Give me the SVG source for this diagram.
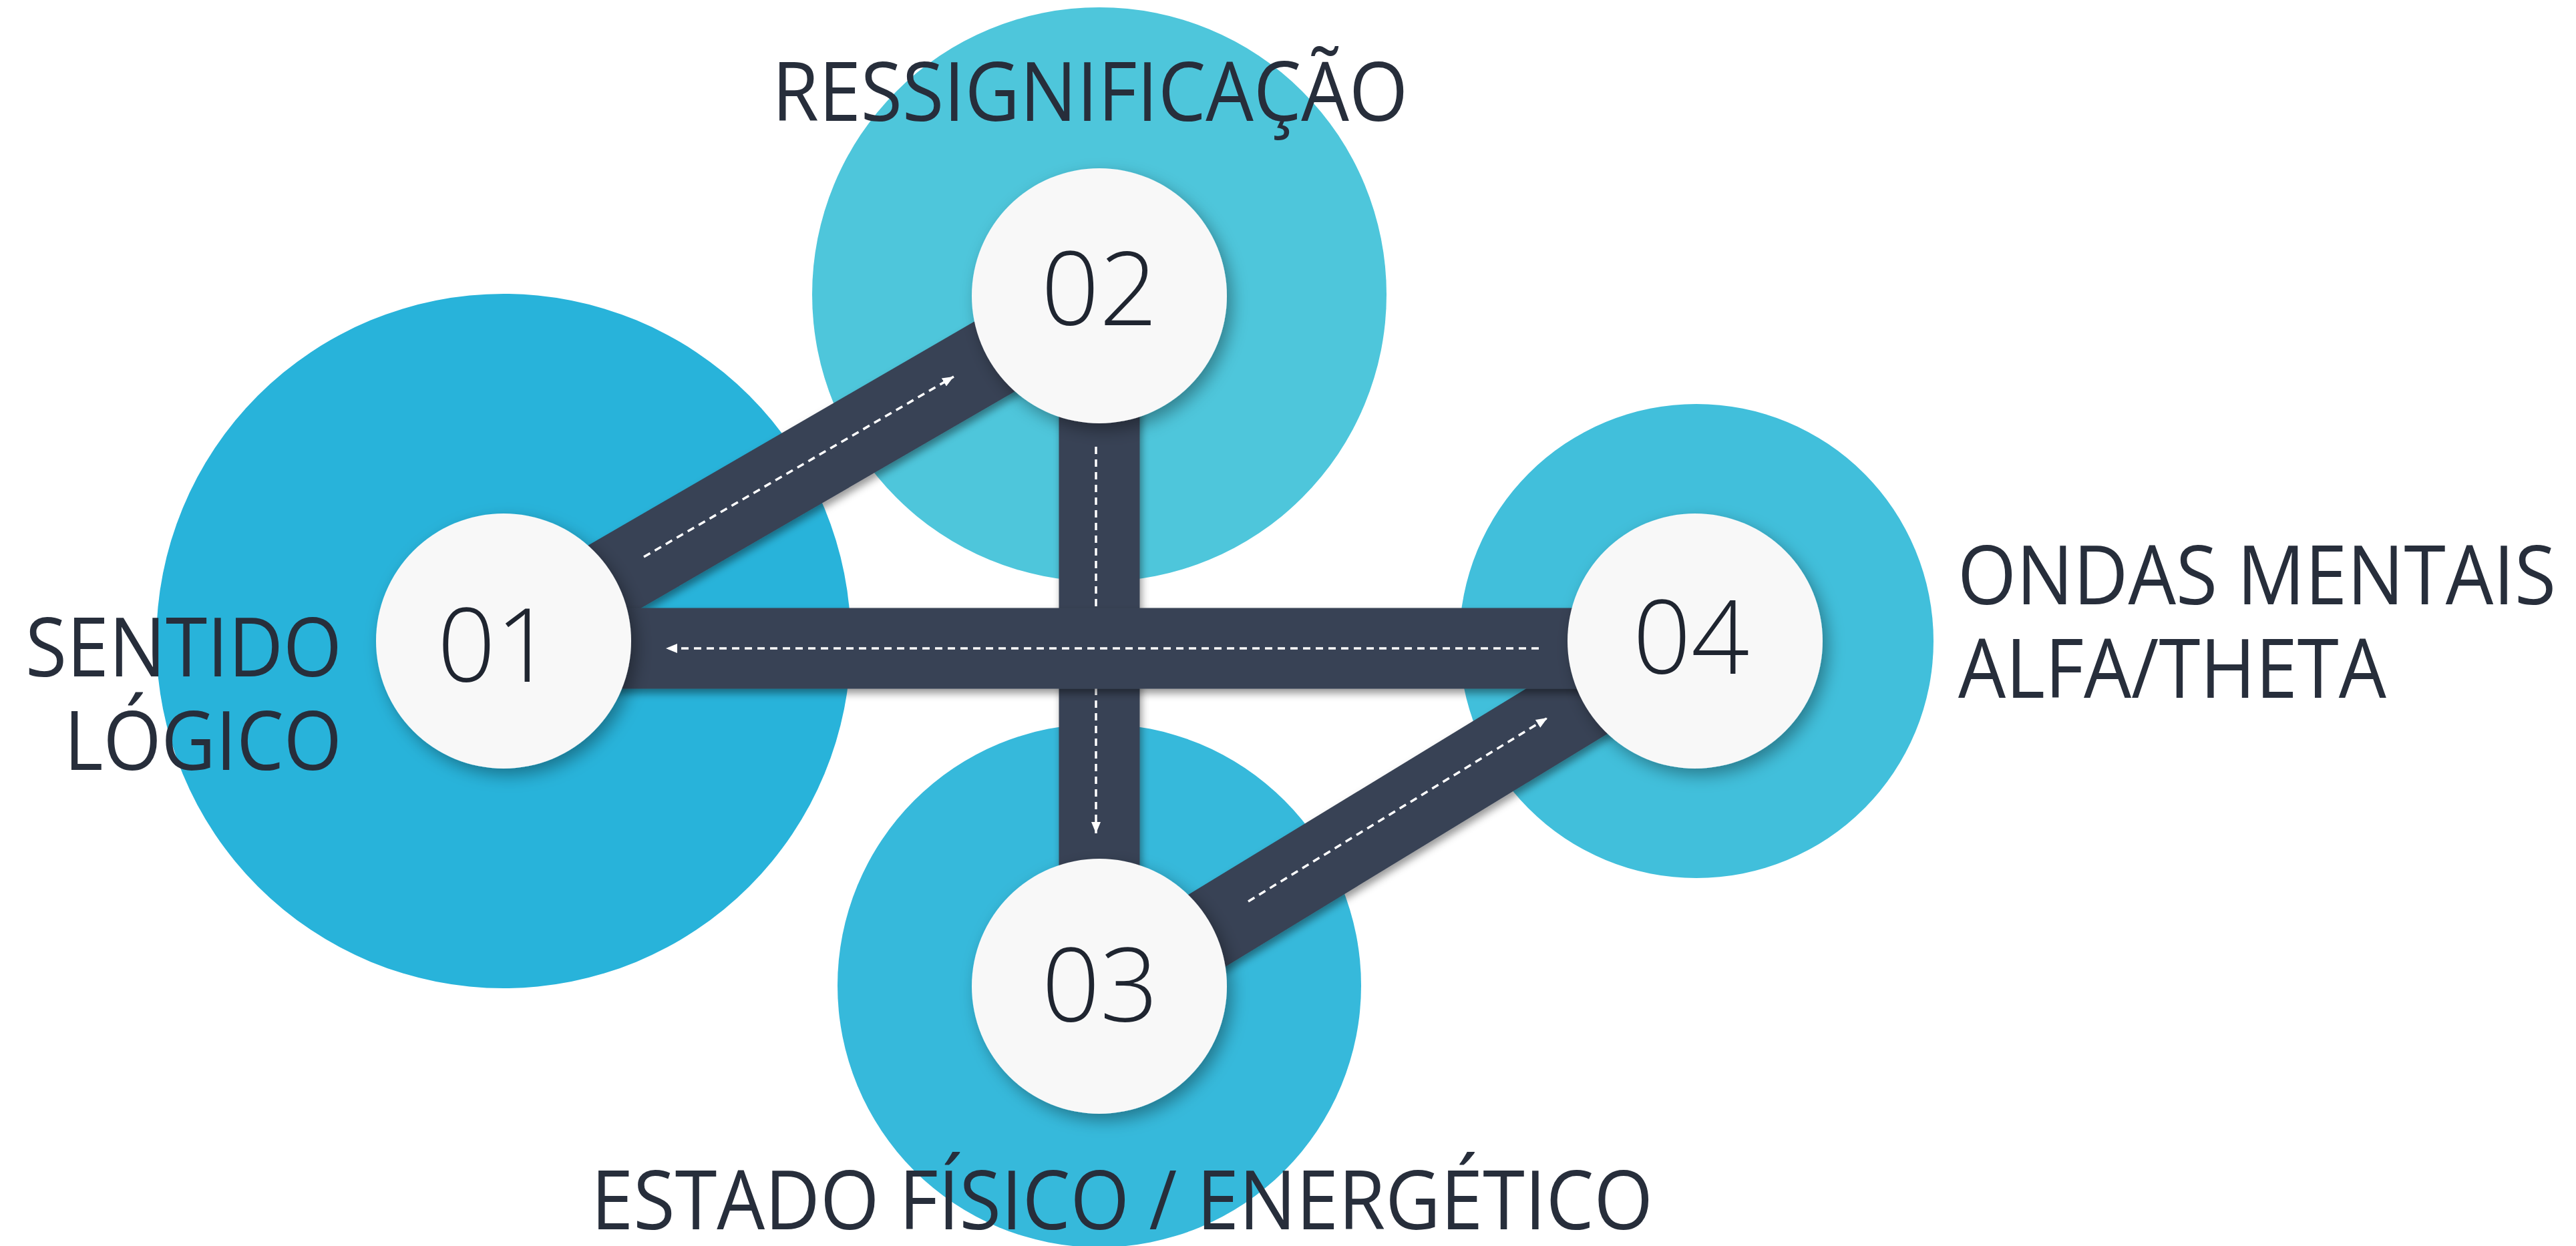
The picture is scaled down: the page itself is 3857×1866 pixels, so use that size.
<svg xmlns="http://www.w3.org/2000/svg" width="3857" height="1866" viewBox="0 0 3857 1866">
<style>
.road{stroke:#394355;stroke-width:121;fill:none;stroke-linecap:butt}
.dash{stroke:#ffffff;stroke-width:3.5;stroke-dasharray:11 8;fill:none}
.disc{fill:#f8f8f8}
.num{font-family:"Open Sans","Liberation Sans",sans-serif;font-weight:300;font-size:153px;fill:#1f2530;text-anchor:middle}
.lbl{font-family:"Open Sans","Liberation Sans",sans-serif;font-weight:400;font-size:122px;fill:#272e3b}
</style>
<defs>
<filter id="sh" x="-30%" y="-30%" width="160%" height="160%">
<feDropShadow dx="8" dy="10" stdDeviation="12" flood-color="#000" flood-opacity="0.35"/>
</filter>
<filter id="rsh" filterUnits="userSpaceOnUse" x="0" y="0" width="3857" height="1866">
<feDropShadow dx="3" dy="7" stdDeviation="6" flood-color="#000" flood-opacity="0.4"/>
</filter>
<marker id="arr" markerUnits="userSpaceOnUse" markerWidth="18" markerHeight="16" refX="17" refY="8" orient="auto">
<path d="M0,1 L17,8 L0,15 z" fill="#ffffff"/>
</marker>
</defs>
<rect width="3857" height="1866" fill="#ffffff"/>
<g id="backdrops">
<circle cx="754" cy="960" r="520" fill="#28b3da"/>
<circle cx="1646" cy="441" r="430" fill="#4ec6db"/>
<circle cx="1646" cy="1476" r="392" fill="#36b9db"/>
<circle cx="2540" cy="960" r="355" fill="#41bfdb"/>
</g>
<g id="connectors">
<line class="road" x1="754" y1="960" x2="1646" y2="443" filter="url(#rsh)"/>
<line class="dash" x1="964" y1="834" x2="1428" y2="564" marker-end="url(#arr)"/>
<line class="road" x1="1646" y1="1492" x2="2538" y2="948" filter="url(#rsh)"/>
<line class="dash" x1="1869" y1="1350" x2="2317" y2="1075" marker-end="url(#arr)"/>
<line class="road" x1="1646" y1="443" x2="1646" y2="1477" filter="url(#rsh)"/>
<line class="dash" x1="1641" y1="669" x2="1641" y2="1248" marker-end="url(#arr)"/>
<line class="road" x1="754" y1="971" x2="2540" y2="971" filter="url(#rsh)"/>
<line class="dash" x1="2304" y1="971" x2="997" y2="971" marker-end="url(#arr)"/>
</g>
<g id="node-01">
<circle class="disc" cx="754" cy="960" r="191" filter="url(#sh)"/>
<text class="num" x="742" y="1021">01</text>
<text class="lbl" x="512" y="1013" text-anchor="end" textLength="474" lengthAdjust="spacingAndGlyphs">SENTIDO</text>
<text class="lbl" x="512" y="1153" text-anchor="end" textLength="416" lengthAdjust="spacingAndGlyphs">LÓGICO</text>
</g>
<g id="node-02">
<circle class="disc" cx="1646" cy="443" r="191" filter="url(#sh)"/>
<text class="num" x="1646" y="487">02</text>
<text class="lbl" x="1156" y="181" textLength="952" lengthAdjust="spacingAndGlyphs">RESSIGNIFICAÇÃO</text>
</g>
<g id="node-03">
<circle class="disc" cx="1646" cy="1477" r="191" filter="url(#sh)"/>
<text class="num" x="1647" y="1530">03</text>
<text class="lbl" x="885" y="1841" textLength="1590" lengthAdjust="spacingAndGlyphs">ESTADO FÍSICO / ENERGÉTICO</text>
</g>
<g id="node-04">
<circle class="disc" cx="2538" cy="960" r="191" filter="url(#sh)"/>
<text class="num" x="2532" y="1009">04</text>
<text class="lbl" x="2931" y="905" textLength="896" lengthAdjust="spacingAndGlyphs">ONDAS MENTAIS</text>
<text class="lbl" x="2932" y="1045" textLength="641" lengthAdjust="spacingAndGlyphs">ALFA/THETA</text>
</g>
</svg>
